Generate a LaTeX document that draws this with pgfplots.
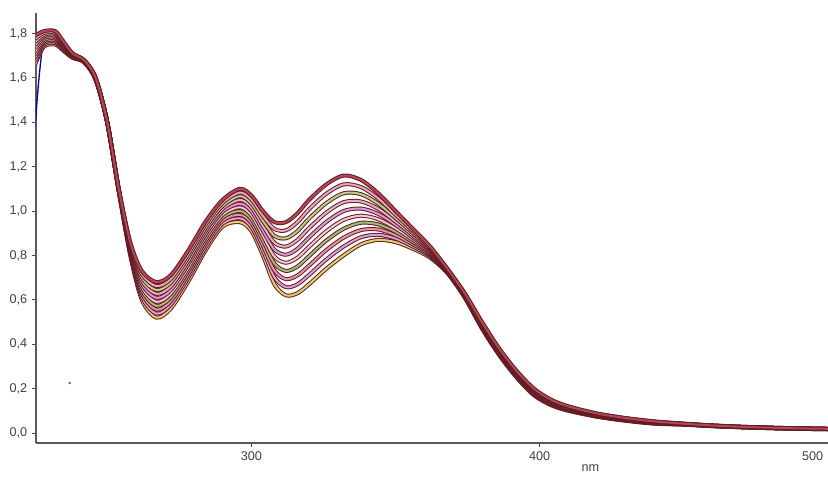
\documentclass[border=0pt]{standalone}
\usepackage{pgfplots}
\usepackage{pgfplotstable}
\pgfplotsset{compat=1.18}
\usepackage{fontspec}
\setmainfont{Liberation Sans}

\definecolor{dk1}{HTML}{641C22}
\definecolor{in0}{HTML}{B04858}
\definecolor{in1}{HTML}{E8A8C0}
\definecolor{in2}{HTML}{B8D08A}
\definecolor{in3}{HTML}{E6B0C8}
\definecolor{in4}{HTML}{D89AD8}
\definecolor{in5}{HTML}{F4C8D4}
\definecolor{in6}{HTML}{9CC070}
\definecolor{in7}{HTML}{E890B0}
\definecolor{in8}{HTML}{D8A0D8}
\definecolor{in9}{HTML}{E0D070}

\pgfplotstableread{
nm  c0    c1    c2    c3    c4    c5    c6    c7    c8    c9
225 1.790 1.776 1.761 1.747 1.732 1.718 1.703 1.689 1.674 1.660
228 1.810 1.802 1.794 1.787 1.779 1.771 1.763 1.756 1.748 1.740
232 1.810 1.803 1.797 1.790 1.783 1.777 1.770 1.763 1.757 1.750
235 1.760 1.756 1.751 1.747 1.742 1.738 1.733 1.729 1.724 1.720
238 1.710 1.708 1.706 1.703 1.701 1.699 1.697 1.694 1.692 1.690
242 1.680 1.679 1.678 1.677 1.676 1.674 1.673 1.672 1.671 1.670
246 1.600 1.599 1.598 1.597 1.596 1.594 1.593 1.592 1.591 1.590
250 1.400 1.400 1.400 1.400 1.400 1.400 1.400 1.400 1.400 1.400
254 1.100 1.099 1.098 1.097 1.096 1.094 1.093 1.092 1.091 1.090
258 0.860 0.853 0.847 0.840 0.833 0.827 0.820 0.813 0.807 0.800
262 0.730 0.716 0.701 0.687 0.672 0.658 0.643 0.629 0.614 0.600
267 0.680 0.662 0.644 0.627 0.609 0.591 0.573 0.556 0.538 0.520
272 0.710 0.693 0.677 0.660 0.643 0.627 0.610 0.593 0.577 0.560
278 0.820 0.804 0.789 0.773 0.758 0.742 0.727 0.711 0.696 0.680
284 0.950 0.936 0.921 0.907 0.892 0.878 0.863 0.849 0.834 0.820
290 1.050 1.037 1.023 1.010 0.997 0.983 0.970 0.957 0.943 0.930
296 1.100 1.083 1.067 1.050 1.033 1.017 1.000 0.983 0.967 0.950
300 1.070 1.052 1.034 1.017 0.999 0.981 0.963 0.946 0.928 0.910
304 1.000 0.978 0.956 0.933 0.911 0.889 0.867 0.844 0.822 0.800
308 0.950 0.919 0.888 0.857 0.826 0.794 0.763 0.732 0.701 0.670
312 0.950 0.913 0.877 0.840 0.803 0.767 0.730 0.693 0.657 0.620
316 0.990 0.950 0.910 0.870 0.830 0.790 0.750 0.710 0.670 0.630
320 1.050 1.008 0.966 0.923 0.881 0.839 0.797 0.754 0.712 0.670
326 1.120 1.078 1.036 0.993 0.951 0.909 0.867 0.824 0.782 0.740
332 1.160 1.120 1.080 1.040 1.000 0.960 0.920 0.880 0.840 0.800
338 1.140 1.108 1.076 1.043 1.011 0.979 0.947 0.914 0.882 0.850
344 1.080 1.057 1.033 1.010 0.987 0.963 0.940 0.917 0.893 0.870
350 1.000 0.984 0.969 0.953 0.938 0.922 0.907 0.891 0.876 0.860
356 0.920 0.910 0.900 0.890 0.880 0.870 0.860 0.850 0.840 0.830
362 0.840 0.834 0.829 0.823 0.818 0.812 0.807 0.801 0.796 0.790
368 0.740 0.738 0.736 0.733 0.731 0.729 0.727 0.724 0.722 0.720
374 0.630 0.628 0.626 0.623 0.621 0.619 0.617 0.614 0.612 0.610
380 0.500 0.497 0.493 0.490 0.487 0.483 0.480 0.477 0.473 0.470
386 0.380 0.377 0.373 0.370 0.367 0.363 0.360 0.357 0.353 0.350
392 0.280 0.277 0.273 0.270 0.267 0.263 0.260 0.257 0.253 0.250
398 0.200 0.197 0.193 0.190 0.187 0.183 0.180 0.177 0.173 0.170
404 0.150 0.147 0.144 0.142 0.139 0.136 0.133 0.131 0.128 0.125
410 0.120 0.118 0.116 0.113 0.111 0.109 0.107 0.104 0.102 0.100
420 0.088 0.086 0.085 0.083 0.081 0.080 0.078 0.076 0.075 0.073
430 0.067 0.066 0.064 0.063 0.062 0.060 0.059 0.058 0.056 0.055
440 0.052 0.051 0.050 0.049 0.048 0.046 0.045 0.044 0.043 0.042
450 0.042 0.042 0.041 0.041 0.040 0.040 0.039 0.039 0.038 0.038
460 0.034 0.034 0.033 0.033 0.033 0.032 0.032 0.032 0.031 0.031
470 0.028 0.028 0.028 0.027 0.027 0.027 0.027 0.026 0.026 0.026
480 0.024 0.024 0.024 0.023 0.023 0.023 0.023 0.022 0.022 0.022
490 0.021 0.021 0.021 0.020 0.020 0.020 0.020 0.019 0.019 0.019
500 0.019 0.019 0.019 0.018 0.018 0.018 0.018 0.017 0.017 0.017
}\spectra

\pgfplotstableread{
nm  a
225 1.380
226 1.550
227 1.680
228 1.750
232 1.770
235 1.740
238 1.700
242 1.675
246 1.595
250 1.400
254 1.095
}\bluecurve

\begin{document}
\begin{tikzpicture}
\begin{axis}[
  scale only axis,
  width=594pt, height=322.5pt,
  xmin=225.3, xmax=500,
  ymin=-0.045, ymax=1.892,
  axis x line=bottom, axis y line=left,
  axis line style={-, draw=black!65, line width=1.1pt},
  xtick={300,400},
  extra x ticks={500},
  extra x tick style={xticklabel style={anchor=north east}},
  ytick={0,0.2,0.4,0.6,0.8,1.0,1.2,1.4,1.6,1.8},
  tick align=outside,
  major tick length=3pt,
  tick style={black!70, line width=0.6pt},
  yticklabel style={/pgf/number format/use comma, /pgf/number format/fixed, /pgf/number format/fixed zerofill, /pgf/number format/precision=1},
  xticklabel style={/pgf/number format/1000 sep={}},
  /pgf/number format/assume math mode=true,
  ticklabel style={font=\fontsize{9.5}{11}\selectfont, text=black!75},
  xlabel={nm},
  xlabel style={at={(axis description cs:0.70,0)}, anchor=north, yshift=-13pt, font=\fontsize{9.5}{11}\selectfont, text=black!75},
  clip=true,
]
\addplot[color=blue!70!black, line width=1pt, smooth] table[x=nm, y=a]{\bluecurve};
\pgfplotsinvokeforeach{9,8,...,0}{
  \addplot[color=dk1, line width=3.0pt, smooth] table[x=nm, y=c#1]{\spectra};
  \addplot[color=in#1, line width=1.5pt, smooth] table[x=nm, y=c#1]{\spectra};
}
\addplot[only marks, mark=*, mark size=0.6pt, color=black!70] coordinates {(237,0.225)};
\end{axis}
\pgfresetboundingbox
\useasboundingbox (-27pt,-27pt) rectangle (594pt,332.25pt);
\end{tikzpicture}
\end{document}
